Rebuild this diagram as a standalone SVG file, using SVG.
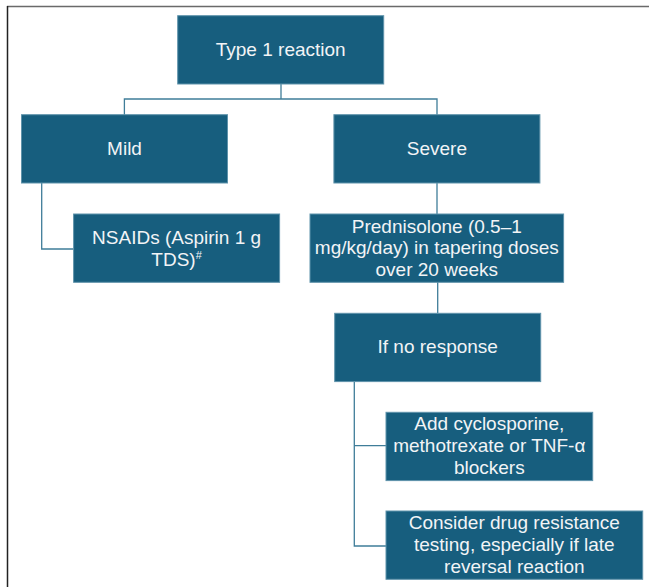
<svg xmlns="http://www.w3.org/2000/svg" width="649" height="587" viewBox="0 0 649 587">
<style>
.box{fill:#175e7e;stroke:#5f93ab;stroke-width:1}
.t{font-family:"Liberation Sans",Arial,sans-serif;font-size:19px;fill:#f2f4f6;text-anchor:middle}
.c{fill:none;stroke:#3f7d99;stroke-width:1.3}
</style>
<rect width="649" height="587" fill="#ffffff"/>
<line x1="7" y1="6.5" x2="649" y2="6.5" stroke="#6a6a6a" stroke-width="1.5"/>
<line x1="7.5" y1="6" x2="7.5" y2="587" stroke="#222222" stroke-width="1.5"/>
<g id="connectors">
<path class="c" d="M281 84V99M124.4 115V99H437V115"/>
<path class="c" d="M41.7 183V249H73.6"/>
<path class="c" d="M437 183V214"/>
<path class="c" d="M437.7 282V313"/>
<path class="c" d="M354.3 382V546H386M354.3 445.7H386"/>
</g>
<g id="type1"><rect class="box" x="177.7" y="15.7" width="206" height="68.3"/><text class="t" x="280.7" y="56">Type 1 reaction</text></g>
<g id="mild"><rect class="box" x="21.5" y="114.7" width="206" height="68.3"/><text class="t" x="124.5" y="154.5">Mild</text></g>
<g id="severe"><rect class="box" x="333.9" y="114.7" width="206" height="68.3"/><text class="t" x="436.9" y="154.5">Severe</text></g>
<g id="nsaids"><rect class="box" x="73.6" y="214" width="206" height="68.3"/><text class="t" x="176.6" y="244">NSAIDs (Aspirin 1 g</text><text class="t" x="176.6" y="266">TDS)<tspan font-size="11" dy="-7">#</tspan></text></g>
<g id="prednisolone"><rect class="box" x="310" y="214" width="253.6" height="68.3"/><text class="t" x="436.8" y="232.5">Prednisolone (0.5–1</text><text class="t" x="436.8" y="254">mg/kg/day) in tapering doses</text><text class="t" x="436.8" y="275.5">over 20 weeks</text></g>
<g id="noresponse"><rect class="box" x="334.7" y="313.3" width="206" height="68.3"/><text class="t" x="437.7" y="353">If no response</text></g>
<g id="add"><rect class="box" x="386" y="412.3" width="206.7" height="68.3"/><text class="t" x="489.3" y="430">Add cyclosporine,</text><text class="t" x="489.3" y="452">methotrexate or TNF-α</text><text class="t" x="489.3" y="474">blockers</text></g>
<g id="consider"><rect class="box" x="386" y="511" width="256.7" height="68.3"/><text class="t" x="514.3" y="529">Consider drug resistance</text><text class="t" x="514.3" y="551">testing, especially if late</text><text class="t" x="514.3" y="573">reversal reaction</text></g>
</svg>
